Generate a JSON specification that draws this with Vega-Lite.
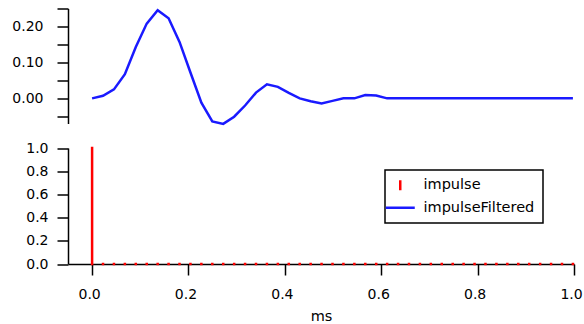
{
  "$schema": "https://vega.github.io/schema/vega-lite/v6.json",
  "width": 506,
  "height": 255.5,
  "autosize": {"type": "none"},
  "padding": {"left": 68, "top": 8.5, "right": 10, "bottom": 60},
  "background": "white",
  "config": {
    "view": {"stroke": null},
    "font": "DejaVu Sans",
    "axis": {
      "grid": false,
      "domainColor": "black",
      "domainWidth": 1.5,
      "tickColor": "black",
      "tickWidth": 1.5,
      "labelColor": "black",
      "labelFont": "DejaVu Sans",
      "labelFontSize": 14,
      "titleFont": "DejaVu Sans",
      "titleFontWeight": "normal",
      "titleColor": "black",
      "labelOverlap": false,
      "labelFlush": false
    }
  },
  "datasets": {
    "filtered": [
      {"t": 0.0, "v": 0.0},
      {"t": 0.022676, "v": 0.007},
      {"t": 0.045351, "v": 0.025},
      {"t": 0.068027, "v": 0.067},
      {"t": 0.090703, "v": 0.143},
      {"t": 0.113379, "v": 0.208},
      {"t": 0.136054, "v": 0.245},
      {"t": 0.15873, "v": 0.223},
      {"t": 0.181406, "v": 0.157},
      {"t": 0.204082, "v": 0.072},
      {"t": 0.226757, "v": -0.012},
      {"t": 0.249433, "v": -0.064},
      {"t": 0.272109, "v": -0.071},
      {"t": 0.294785, "v": -0.051},
      {"t": 0.31746, "v": -0.02},
      {"t": 0.340136, "v": 0.016},
      {"t": 0.362812, "v": 0.039},
      {"t": 0.385488, "v": 0.032},
      {"t": 0.408163, "v": 0.015},
      {"t": 0.430839, "v": 0.0},
      {"t": 0.453515, "v": -0.008},
      {"t": 0.47619, "v": -0.014},
      {"t": 0.498866, "v": -0.007},
      {"t": 0.521542, "v": 0.0},
      {"t": 0.544218, "v": 0.0},
      {"t": 0.566893, "v": 0.009},
      {"t": 0.589569, "v": 0.008},
      {"t": 0.612245, "v": 0.0},
      {"t": 0.634921, "v": 0.0},
      {"t": 0.657596, "v": 0.0},
      {"t": 0.680272, "v": 0.0},
      {"t": 0.702948, "v": 0.0},
      {"t": 0.725624, "v": 0.0},
      {"t": 0.748299, "v": 0.0},
      {"t": 0.770975, "v": 0.0},
      {"t": 0.793651, "v": 0.0},
      {"t": 0.816327, "v": 0.0},
      {"t": 0.839002, "v": 0.0},
      {"t": 0.861678, "v": 0.0},
      {"t": 0.884354, "v": 0.0},
      {"t": 0.907029, "v": 0.0},
      {"t": 0.929705, "v": 0.0},
      {"t": 0.952381, "v": 0.0},
      {"t": 0.975057, "v": 0.0},
      {"t": 0.997732, "v": 0.0}
    ],
    "impulse": [
      {"t": 0.0, "v": 1},
      {"t": 0.022676, "v": 0},
      {"t": 0.045351, "v": 0},
      {"t": 0.068027, "v": 0},
      {"t": 0.090703, "v": 0},
      {"t": 0.113379, "v": 0},
      {"t": 0.136054, "v": 0},
      {"t": 0.15873, "v": 0},
      {"t": 0.181406, "v": 0},
      {"t": 0.204082, "v": 0},
      {"t": 0.226757, "v": 0},
      {"t": 0.249433, "v": 0},
      {"t": 0.272109, "v": 0},
      {"t": 0.294785, "v": 0},
      {"t": 0.31746, "v": 0},
      {"t": 0.340136, "v": 0},
      {"t": 0.362812, "v": 0},
      {"t": 0.385488, "v": 0},
      {"t": 0.408163, "v": 0},
      {"t": 0.430839, "v": 0},
      {"t": 0.453515, "v": 0},
      {"t": 0.47619, "v": 0},
      {"t": 0.498866, "v": 0},
      {"t": 0.521542, "v": 0},
      {"t": 0.544218, "v": 0},
      {"t": 0.566893, "v": 0},
      {"t": 0.589569, "v": 0},
      {"t": 0.612245, "v": 0},
      {"t": 0.634921, "v": 0},
      {"t": 0.657596, "v": 0},
      {"t": 0.680272, "v": 0},
      {"t": 0.702948, "v": 0},
      {"t": 0.725624, "v": 0},
      {"t": 0.748299, "v": 0},
      {"t": 0.770975, "v": 0},
      {"t": 0.793651, "v": 0},
      {"t": 0.816327, "v": 0},
      {"t": 0.839002, "v": 0},
      {"t": 0.861678, "v": 0},
      {"t": 0.884354, "v": 0},
      {"t": 0.907029, "v": 0},
      {"t": 0.929705, "v": 0},
      {"t": 0.952381, "v": 0},
      {"t": 0.975057, "v": 0},
      {"t": 0.997732, "v": 0}
    ]
  },
  "layer": [
    {
      "data": {"name": "filtered"},
      "mark": {"type": "line", "strokeWidth": 2.5, "clip": false},
      "encoding": {
        "x": {
          "field": "t",
          "type": "quantitative",
          "scale": {"domain": [-0.05, 1.0], "nice": false, "zero": false},
          "axis": {
            "values": [0, 0.2, 0.4, 0.6, 0.8, 1.0],
            "format": ".1f",
            "tickSize": 11,
            "labelPadding": 12,
            "labelOffset": -3,
            "title": "ms",
            "titleFontSize": 14.5,
            "titlePadding": 8
          }
        },
        "y": {
          "field": "v",
          "type": "quantitative",
          "scale": {"domain": [-0.07, 0.25], "range": [115, 0], "nice": false, "zero": false},
          "axis": {
            "orient": "left",
            "title": null,
            "values": [-0.05, 0, 0.05, 0.1, 0.15, 0.2, 0.25],
            "labelExpr": "abs(round(datum.value*100)) % 10 == 0 ? format(datum.value, '.2f') : ''",
            "tickSize": 11,
            "labelPadding": 14,
            "encode": {
              "ticks": {
                "update": {
                  "x2": {"signal": "abs(round(datum.value*100)) % 10 == 0 ? -11 : -6"}
                }
              }
            }
          }
        },
        "color": {
          "datum": "impulseFiltered",
          "type": "nominal",
          "scale": {"domain": ["impulse", "impulseFiltered"], "range": ["#ff0000", "#1a1aff"]},
          "legend": {
            "title": null,
            "orient": "none",
            "legendX": 317,
            "legendY": 161.5,
            "strokeColor": "black",
            "fillColor": "white",
            "padding": 8,
            "labelFont": "DejaVu Sans",
            "labelFontSize": 14.5,
            "labelColor": "black",
            "labelOffset": 16,
            "symbolType": "stroke",
            "symbolSize": 100,
            "symbolStrokeWidth": 2.5,
            "rowPadding": 3.5,
            "encode": {
              "legend": {"update": {"strokeWidth": {"value": 1.5}}},
              "symbols": {
                "update": {
                  "shape": {"signal": "datum.value === 'impulse' ? 'M0,-1L0,1' : 'M-2.9,0L2.9,0'"}
                }
              }
            }
          }
        }
      }
    },
    {
      "data": {"name": "impulse"},
      "mark": {"type": "rule", "strokeWidth": 2.5, "strokeCap": "square"},
      "encoding": {
        "x": {"field": "t", "type": "quantitative"},
        "y": {
          "field": "v",
          "type": "quantitative",
          "scale": {"domain": [0, 1], "range": [255.5, 139.5], "nice": false, "zero": false},
          "axis": {
            "orient": "left",
            "title": null,
            "values": [0, 0.2, 0.4, 0.6, 0.8, 1.0],
            "format": ".1f",
            "tickSize": 11,
            "labelPadding": 9
          }
        },
        "y2": {"datum": 0},
        "color": {"datum": "impulse", "type": "nominal"}
      }
    }
  ],
  "resolve": {"scale": {"y": "independent"}, "axis": {"y": "independent"}}
}
